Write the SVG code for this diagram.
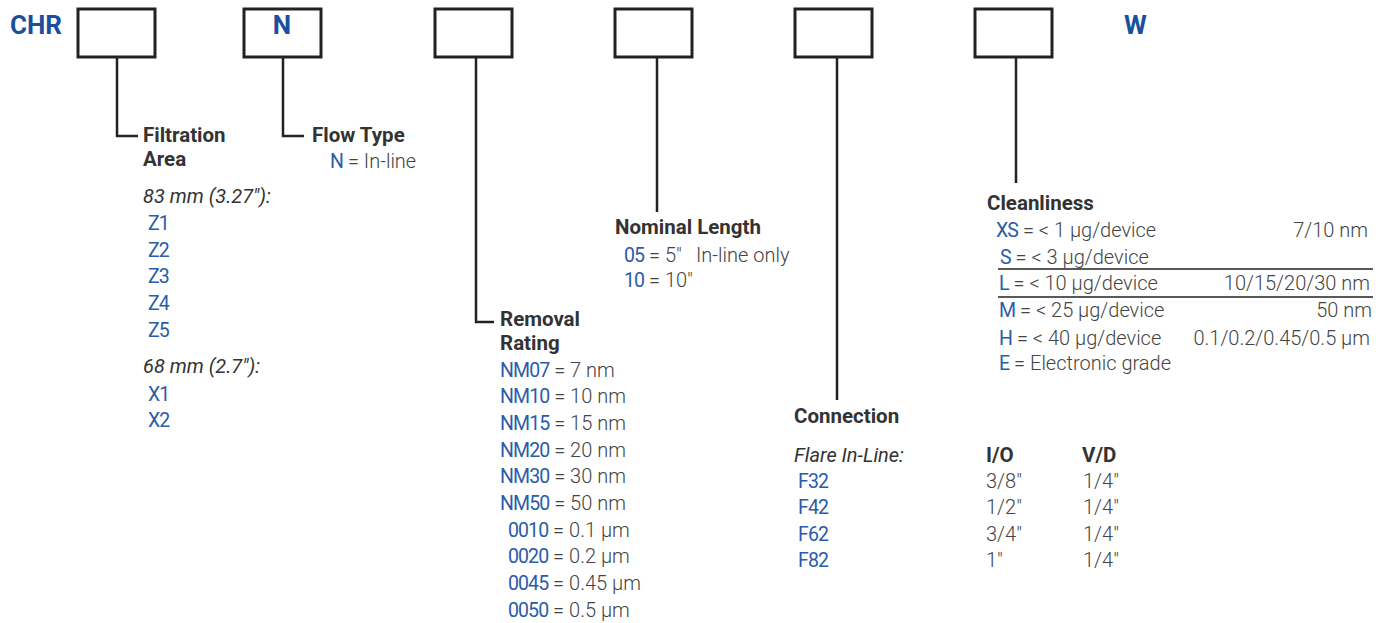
<svg xmlns="http://www.w3.org/2000/svg" width="1387" height="623" viewBox="0 0 1387 623">
<style>
.box{fill:#fff;stroke:#222;stroke-width:3}
.ln{fill:none;stroke:#222;stroke-width:2.5}
.rule{stroke:#222;stroke-width:1.3}
.code{font-family:Roboto,"Liberation Sans",sans-serif;font-weight:700;font-size:26px;fill:#1a4f9c}
.h{font-family:Roboto,"Liberation Sans",sans-serif;font-weight:700;font-size:20.5px;fill:#333}
.t{font-family:Roboto,"Liberation Sans",sans-serif;font-weight:300;font-size:20px;fill:#444}
.it{font-family:Roboto,"Liberation Sans",sans-serif;font-style:italic;font-weight:400;font-size:20px;fill:#333}
.b{fill:#2a5caa;font-weight:400;font-size:19.5px;letter-spacing:-0.9px}
</style>
<rect width="1387" height="623" fill="#fff"/>
<text class="code" x="10" y="34">CHR</text>
<text class="code" x="1124" y="34">W</text>
<g id="connectors">
<polyline class="ln" points="117,57 117,136 138,136"/>
<polyline class="ln" points="283,57 283,136 304,136"/>
<polyline class="ln" points="476,57 476,322 494,322"/>
<line class="ln" x1="657" y1="57" x2="657" y2="212"/>
<line class="ln" x1="837" y1="57" x2="837" y2="400"/>
<line class="ln" x1="1016" y1="57" x2="1016" y2="183"/>
</g>
<g id="box1"><rect class="box" x="78" y="9" width="77" height="48"/></g>
<g id="box2"><rect class="box" x="244" y="9" width="77" height="48"/><text class="code" x="282" y="34" text-anchor="middle">N</text></g>
<g id="box3"><rect class="box" x="435" y="9" width="77" height="48"/></g>
<g id="box4"><rect class="box" x="615" y="9" width="77" height="48"/></g>
<g id="box5"><rect class="box" x="795" y="9" width="77" height="48"/></g>
<g id="box6"><rect class="box" x="975" y="9" width="77" height="48"/></g>
<g id="filtration-area">
<text class="h" x="143" y="142">Filtration</text>
<text class="h" x="143" y="166">Area</text>
<text class="it" x="143" y="203">83 mm (3.27"):</text>
<text class="t b" x="148" y="230">Z1</text>
<text class="t b" x="148" y="257">Z2</text>
<text class="t b" x="148" y="283">Z3</text>
<text class="t b" x="148" y="310">Z4</text>
<text class="t b" x="148" y="337">Z5</text>
<text class="it" x="143" y="373">68 mm (2.7"):</text>
<text class="t b" x="148" y="401">X1</text>
<text class="t b" x="148" y="427">X2</text>
</g>
<g id="flow-type">
<text class="h" x="312" y="142">Flow Type</text>
<text class="t" x="330" y="168"><tspan class="b">N</tspan> = In-line</text>
</g>
<g id="removal-rating">
<text class="h" x="500" y="326">Removal</text>
<text class="h" x="500" y="350">Rating</text>
<text class="t" x="500" y="377"><tspan class="b">NM07</tspan> = 7 nm</text>
<text class="t" x="500" y="403"><tspan class="b">NM10</tspan> = 10 nm</text>
<text class="t" x="500" y="430"><tspan class="b">NM15</tspan> = 15 nm</text>
<text class="t" x="500" y="457"><tspan class="b">NM20</tspan> = 20 nm</text>
<text class="t" x="500" y="483"><tspan class="b">NM30</tspan> = 30 nm</text>
<text class="t" x="500" y="510"><tspan class="b">NM50</tspan> = 50 nm</text>
<text class="t" x="508" y="537"><tspan class="b">0010</tspan> = 0.1 µm</text>
<text class="t" x="508" y="563"><tspan class="b">0020</tspan> = 0.2 µm</text>
<text class="t" x="508" y="590"><tspan class="b">0045</tspan> = 0.45 µm</text>
<text class="t" x="508" y="617"><tspan class="b">0050</tspan> = 0.5 µm</text>
</g>
<g id="nominal-length">
<text class="h" x="615" y="234">Nominal Length</text>
<text class="t" x="624" y="262"><tspan class="b">05</tspan> = 5"</text>
<text class="t" x="696" y="262">In-line only</text>
<text class="t" x="624" y="287"><tspan class="b">10</tspan> = 10"</text>
</g>
<g id="connection">
<text class="h" x="794" y="423">Connection</text>
<text class="it" x="794" y="462">Flare In-Line:</text>
<text class="h" x="986" y="462">I/O</text>
<text class="h" x="1082" y="462">V/D</text>
<text class="t b" x="798" y="488">F32</text>
<text class="t b" x="798" y="514">F42</text>
<text class="t b" x="798" y="541">F62</text>
<text class="t b" x="798" y="567">F82</text>
<text class="t" x="986" y="488">3/8"</text>
<text class="t" x="986" y="514">1/2"</text>
<text class="t" x="986" y="541">3/4"</text>
<text class="t" x="986" y="567">1"</text>
<text class="t" x="1083" y="488">1/4"</text>
<text class="t" x="1083" y="514">1/4"</text>
<text class="t" x="1083" y="541">1/4"</text>
<text class="t" x="1083" y="567">1/4"</text>
</g>
<g id="cleanliness">
<text class="h" x="987" y="210">Cleanliness</text>
<text class="t" x="996" y="237"><tspan class="b">XS</tspan> = &lt; 1 µg/device</text>
<text class="t" x="1368" y="237" text-anchor="end">7/10 nm</text>
<text class="t" x="1000" y="264"><tspan class="b">S</tspan> = &lt; 3 µg/device</text>
<line class="rule" x1="998" y1="269" x2="1373" y2="269"/>
<text class="t" x="999" y="290"><tspan class="b">L</tspan> = &lt; 10 µg/device</text>
<text class="t" x="1370" y="290" text-anchor="end">10/15/20/30 nm</text>
<line class="rule" x1="998" y1="297" x2="1373" y2="297"/>
<text class="t" x="999" y="317"><tspan class="b">M</tspan> = &lt; 25 µg/device</text>
<text class="t" x="1372" y="317" text-anchor="end">50 nm</text>
<text class="t" x="999" y="345"><tspan class="b">H</tspan> = &lt; 40 µg/device</text>
<text class="t" x="1370" y="345" text-anchor="end">0.1/0.2/0.45/0.5 µm</text>
<text class="t" x="999" y="370"><tspan class="b">E</tspan> = Electronic grade</text>
</g>
</svg>
